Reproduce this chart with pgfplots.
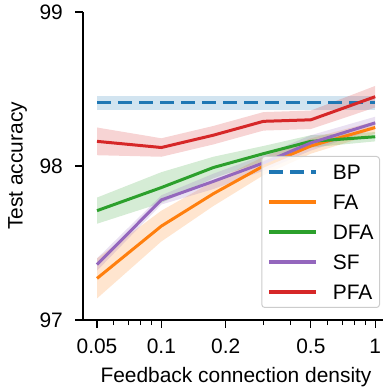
\documentclass[border=0pt]{standalone}
\usepackage{fontspec}
\setmainfont{Liberation Sans}
\usepackage{pgfplots}
\usepackage{pgfplotstable}
\pgfplotsset{compat=1.18}
\usepgfplotslibrary{fillbetween}
\definecolor{cBP}{HTML}{1F77B4}
\definecolor{cFA}{HTML}{FF7F0E}
\definecolor{cDFA}{HTML}{2CA02C}
\definecolor{cSF}{HTML}{9467BD}
\definecolor{cPFA}{HTML}{D62728}
\pgfplotstableread{
x y lo hi
0.05 98.41 98.365 98.455
1 98.41 98.365 98.455
}\BP
\pgfplotstableread{
x y lo hi
0.05 97.27 97.14 97.40
0.1 97.61 97.51 97.71
0.175 97.82 97.74 97.90
0.3 98.00 97.94 98.06
0.5 98.13 98.08 98.18
1 98.25 98.21 98.29
}\FA
\pgfplotstableread{
x y lo hi
0.05 97.71 97.625 97.795
0.1 97.86 97.76 97.96
0.175 97.99 97.92 98.06
0.3 98.08 98.03 98.13
0.5 98.16 98.12 98.20
1 98.19 98.16 98.22
}\DFA
\pgfplotstableread{
x y lo hi
0.05 97.36 97.32 97.40
0.1 97.78 97.75 97.81
0.175 97.90 97.85 97.95
0.3 98.02 97.97 98.07
0.5 98.15 98.10 98.20
1 98.28 98.24 98.32
}\SF
\pgfplotstableread{
x y lo hi
0.05 98.16 98.07 98.25
0.1 98.12 98.06 98.18
0.175 98.20 98.14 98.26
0.3 98.29 98.23 98.35
0.5 98.30 98.24 98.36
1 98.45 98.38 98.52
}\PFA
\newcommand{\band}[2]{%
  \addplot[name path=#1hi, draw=none, forget plot] table[x=x,y=hi]{#2};
  \addplot[name path=#1lo, draw=none, forget plot] table[x=x,y=lo]{#2};
  \addplot[fill=c#1, fill opacity=0.2, draw=none, forget plot] fill between[of=#1hi and #1lo];
}
\begin{document}
\begin{tikzpicture}
\begin{axis}[
  scale only axis,
  width=306bp, height=308bp,
  xmode=log,
  xmin=0.043, xmax=1.16,
  ymin=97, ymax=99,
  axis lines*=left,
  axis line style={line width=1.2bp, -},
  tick align=outside,
  major tick length=8bp,
  minor tick length=5bp,
  every tick/.style={black, line width=1.2bp},
  every minor tick/.style={black, line width=0.9bp},
  xtick={0.05,0.1,0.2,0.5,1},
  xticklabels={0.05,0.1,0.2,0.5,1},
  minor xtick={0.06,0.07,0.08,0.09,0.3,0.4,0.6,0.7,0.8,0.9},
  ytick={97,98,99},
  yticklabels={97,98,99},
  minor ytick={},
  tick label style={font=\fontsize{21}{25}\selectfont, inner sep=0pt},
  x tick label style={anchor=north, yshift=-11bp},
  y tick label style={anchor=east, xshift=-12bp},
  label style={font=\fontsize{21}{25}\selectfont, inner sep=0pt},
  xlabel={Feedback connection density},
  ylabel={Test accuracy},
  xlabel style={at={(axis description cs:0.5,0)}, anchor=north, yshift=-47bp},
  ylabel style={at={(axis description cs:0,0.5)}, anchor=north, yshift=75bp},
  legend style={at={(axis description cs:1,0)}, anchor=south east, xshift=-9bp, yshift=12bp,
    draw=black!20, line width=1bp, rounded corners=3bp, fill=white, fill opacity=0.8, text opacity=1,
    inner xsep=6bp, inner ysep=8bp, row sep=15bp, column sep=15bp,
    font=\fontsize{21}{25}\selectfont,
    nodes={inner sep=0pt, text height=15bp, text depth=0pt}},
  legend cell align=left,
  legend image code/.code={\draw[#1] (0bp,0bp) -- (47bp,0bp);},
]
\band{BP}{\BP}
\band{FA}{\FA}
\band{DFA}{\DFA}
\band{SF}{\SF}
\band{PFA}{\PFA}
\addplot[cBP, line width=3bp, dash pattern=on 14bp off 7bp] table[x=x,y=y]{\BP};
\addlegendentry{BP}
\addplot[cFA, line width=3bp, line join=round] table[x=x,y=y]{\FA};
\addlegendentry{FA}
\addplot[cDFA, line width=3bp, line join=round] table[x=x,y=y]{\DFA};
\addlegendentry{DFA}
\addplot[cSF, line width=3bp, line join=round] table[x=x,y=y]{\SF};
\addlegendentry{SF}
\addplot[cPFA, line width=3bp, line join=round] table[x=x,y=y]{\PFA};
\addlegendentry{PFA}
\end{axis}
\pgfresetboundingbox
\path ([xshift=-83bp,yshift=-70bp]current axis.south west) rectangle ([xshift=-6bp,yshift=12bp]current axis.north east);
\end{tikzpicture}
\end{document}
